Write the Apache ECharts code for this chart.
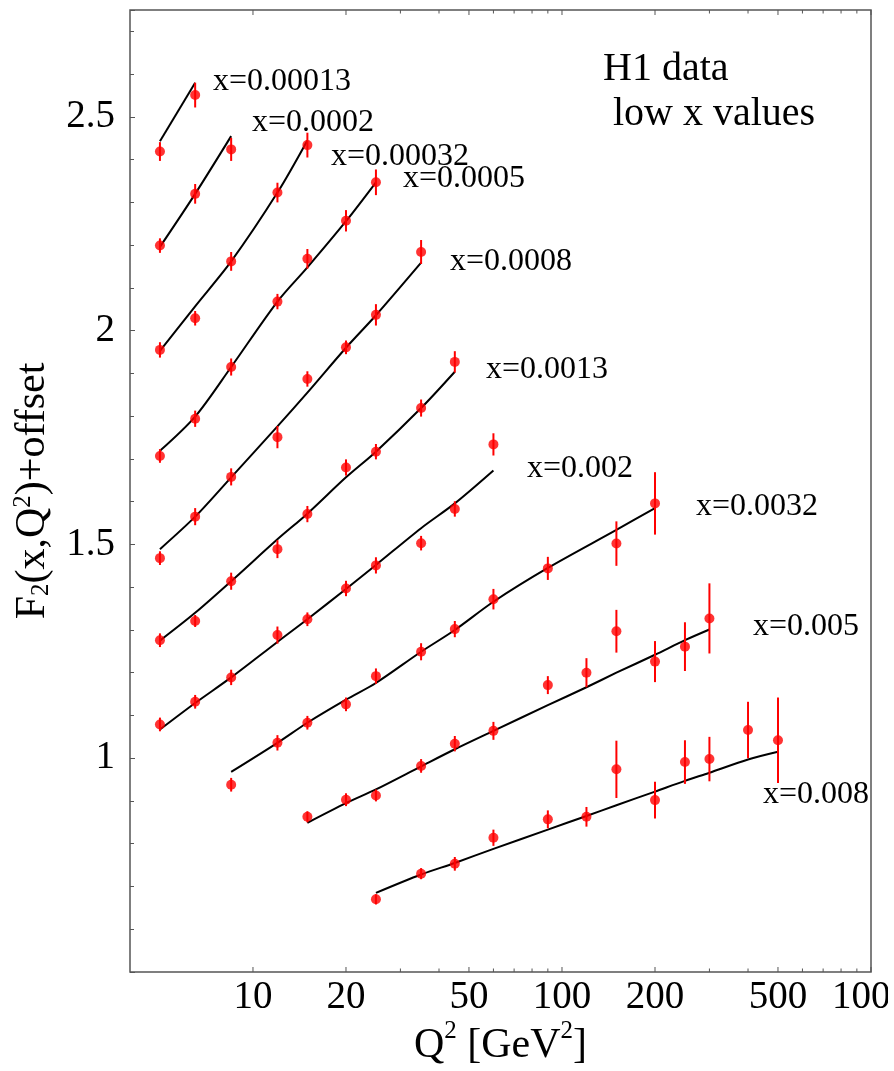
<!DOCTYPE html>
<html>
<head>
<meta charset="utf-8">
<script src="https://cdn.jsdelivr.net/npm/echarts@6/dist/echarts.min.js"></script>
<style>
  html, body { margin: 0; padding: 0; background: #fff; }
  #chart { width: 894px; height: 1071px; }
</style>
</head>
<body>
<div id="chart"></div>
<script>
// H1 structure function F2(x,Q^2) at low x, each x bin shifted by an offset.
// Q^2 in GeV^2, F2 (+offset), error, and the QCD fit curve at the same Q^2.
const Q_X00013 = [5, 6.5];
const F2_X00013 = [2.419, 2.551];
const ERR_X00013 = [0.022, 0.029];
const FIT_X00013 = [2.443, 2.580];

const Q_X0002 = [5, 6.5, 8.5];
const F2_X0002 = [2.199, 2.320, 2.424];
const ERR_X0002 = [0.017, 0.023, 0.027];
const FIT_X0002 = [2.196, 2.320, 2.455];

const Q_X00032 = [5, 6.5, 8.5, 12, 15];
const F2_X00032 = [1.955, 2.029, 2.162, 2.323, 2.434];
const ERR_X00032 = [0.018, 0.017, 0.022, 0.023, 0.029];
const FIT_X00032 = [1.953, 2.057, 2.162, 2.323, 2.445];

const Q_X0005 = [5, 6.5, 8.5, 12, 15, 20, 25];
const F2_X0005 = [1.707, 1.794, 1.915, 2.068, 2.168, 2.257, 2.347];
const ERR_X0005 = [0.016, 0.019, 0.020, 0.018, 0.023, 0.025, 0.030];
const FIT_X0005 = [1.719, 1.799, 1.915, 2.068, 2.148, 2.256, 2.347];

const Q_X0008 = [5, 6.5, 8.5, 12, 15, 20, 25, 35];
const F2_X0008 = [1.468, 1.565, 1.658, 1.751, 1.887, 1.961, 2.037, 2.184];
const ERR_X0008 = [0.016, 0.020, 0.020, 0.026, 0.018, 0.016, 0.025, 0.028];
const FIT_X0008 = [1.489, 1.565, 1.657, 1.776, 1.855, 1.960, 2.036, 2.159];

const Q_X0013 = [5, 6.5, 8.5, 12, 15, 20, 25, 35, 45];
const F2_X0013 = [1.276, 1.321, 1.414, 1.489, 1.571, 1.680, 1.717, 1.819, 1.927];
const ERR_X0013 = [0.016, 0.014, 0.020, 0.021, 0.019, 0.019, 0.018, 0.020, 0.025];
const FIT_X0013 = [1.275, 1.340, 1.414, 1.512, 1.572, 1.657, 1.717, 1.819, 1.904];

const Q_X002 = [5, 6.5, 8.5, 12, 15, 20, 25, 35, 45, 60];
const F2_X002 = [1.079, 1.132, 1.189, 1.288, 1.325, 1.397, 1.451, 1.503, 1.583, 1.734];
const ERR_X002 = [0.016, 0.016, 0.018, 0.020, 0.016, 0.018, 0.019, 0.017, 0.018, 0.026];
const FIT_X002 = [1.067, 1.129, 1.189, 1.272, 1.325, 1.396, 1.452, 1.538, 1.596, 1.673];

const Q_X0032 = [8.5, 12, 15, 20, 25, 35, 45, 60, 90, 150, 200];
const F2_X0032 = [0.938, 1.036, 1.083, 1.126, 1.192, 1.249, 1.302, 1.372, 1.444, 1.502, 1.596];
const ERR_X0032 = [0.016, 0.018, 0.016, 0.016, 0.018, 0.020, 0.019, 0.024, 0.027, 0.052, 0.073];
const FIT_X0032 = [0.968, 1.036, 1.083, 1.137, 1.176, 1.249, 1.300, 1.366, 1.445, 1.534, 1.585];

const Q_X005 = [15, 20, 25, 35, 45, 60, 90, 120, 150, 200, 250, 300];
const F2_X005 = [0.863, 0.903, 0.913, 0.982, 1.034, 1.064, 1.171, 1.200, 1.297, 1.226, 1.261, 1.327];
const ERR_X005 = [0.013, 0.015, 0.014, 0.016, 0.018, 0.021, 0.021, 0.034, 0.050, 0.048, 0.057, 0.082];
const FIT_X005 = [0.849, 0.895, 0.927, 0.981, 1.021, 1.064, 1.124, 1.166, 1.200, 1.242, 1.276, 1.301];

const Q_X008 = [25, 35, 45, 60, 90, 120, 150, 200, 250, 300, 400, 500];
const F2_X008 = [0.670, 0.730, 0.753, 0.814, 0.857, 0.863, 0.974, 0.902, 0.991, 0.998, 1.066, 1.042];
const ERR_X008 = [0.012, 0.013, 0.016, 0.019, 0.021, 0.023, 0.067, 0.043, 0.051, 0.052, 0.066, 0.100];
const FIT_X008 = [0.685, 0.728, 0.755, 0.788, 0.833, 0.865, 0.890, 0.922, 0.947, 0.966, 0.997, 1.015];

const BIN_LABELS = ['x=0.00013', 'x=0.0002', 'x=0.00032', 'x=0.0005', 'x=0.0008',
                    'x=0.0013', 'x=0.002', 'x=0.0032', 'x=0.005', 'x=0.008'];

// axis ticks
const X_MAJOR_TICKS = [10, 20, 50, 100, 200, 500, 1000];
const X_MINOR_TICKS = [30, 40, 60, 70, 80, 90, 300, 400, 600, 700, 800, 900];
const Y_LABELS = [1, 1.5, 2, 2.5];

// ---- layout ----
const X_MIN = 4, X_MAX = 1000, Y_MIN = 0.5, Y_MAX = 2.75;
const SERIF = '"Liberation Serif", "Times New Roman", serif';
const AXIS_GREY = '#555';
const LABEL_CLIP_RIGHT = 888;   // tick labels are cut off at the figure's right border
// anchor (left, vertical middle) of each bin label, same order as BIN_LABELS
const LABEL_ANCHORS = [[213, 82], [252, 123], [331, 157], [403, 179], [450, 262],
                       [486, 370], [527, 469], [696, 507], [753, 627], [763, 795]];

const bins = [
  [Q_X00013, F2_X00013, ERR_X00013, FIT_X00013],
  [Q_X0002, F2_X0002, ERR_X0002, FIT_X0002],
  [Q_X00032, F2_X00032, ERR_X00032, FIT_X00032],
  [Q_X0005, F2_X0005, ERR_X0005, FIT_X0005],
  [Q_X0008, F2_X0008, ERR_X0008, FIT_X0008],
  [Q_X0013, F2_X0013, ERR_X0013, FIT_X0013],
  [Q_X002, F2_X002, ERR_X002, FIT_X002],
  [Q_X0032, F2_X0032, ERR_X0032, FIT_X0032],
  [Q_X005, F2_X005, ERR_X005, FIT_X005],
  [Q_X008, F2_X008, ERR_X008, FIT_X008]
];

const series = [];

// fit curves
bins.forEach(([q, , , fit], i) => {
  series.push({
    type: 'line', name: BIN_LABELS[i] + ' fit', z: 2,
    data: q.map((v, k) => [v, fit[k]]),
    showSymbol: false, symbol: 'none', silent: true, smooth: 0.3,
    lineStyle: { color: '#000', width: 2 }
  });
});

// error bars
const errData = [];
bins.forEach(([q, f2, err]) => q.forEach((v, k) => errData.push([v, f2[k] - err[k], f2[k] + err[k]])));
series.push({
  type: 'custom', name: 'errors', z: 3, silent: true,
  data: errData,
  encode: { x: 0, y: [1, 2] },
  renderItem: (params, api) => {
    const lo = api.coord([api.value(0), api.value(1)]);
    const hi = api.coord([api.value(0), api.value(2)]);
    return { type: 'line', shape: { x1: lo[0], y1: lo[1], x2: hi[0], y2: hi[1] },
             style: { stroke: '#ff0000', lineWidth: 2 } };
  }
});

// data points
const pointData = [];
bins.forEach(([q, f2]) => q.forEach((v, k) => pointData.push([v, f2[k]])));
series.push({
  type: 'scatter', name: 'H1', z: 4, silent: true,
  data: pointData, symbol: 'circle', symbolSize: 10,
  itemStyle: { color: '#ff0000' }
});

// Q^2 axis ticks (bottom and top) and labels
function tickSeries(values, len, withLabel) {
  return {
    type: 'custom', z: 6, silent: true, clip: false,
    data: values.map(v => [v, Y_MIN]),
    encode: { x: 0, y: 1 },
    renderItem: (params, api) => {
      const v = api.value(0);
      const b = api.coord([v, Y_MIN]);
      const t = api.coord([v, Y_MAX]);
      const children = [
        { type: 'line', shape: { x1: b[0], y1: b[1], x2: b[0], y2: b[1] - len },
          style: { stroke: AXIS_GREY, lineWidth: 1 } },
        { type: 'line', shape: { x1: t[0], y1: t[1], x2: t[0], y2: t[1] + len },
          style: { stroke: AXIS_GREY, lineWidth: 1 } }
      ];
      if (withLabel) {
        children.push({ type: 'text', x: b[0], y: b[1] + 26,
          style: { text: String(v), fontSize: 39, fontFamily: SERIF, fill: '#000',
                   align: 'center', verticalAlign: 'middle' } });
      }
      return { type: 'group', children,
               clipPath: { type: 'rect', shape: { x: 0, y: 0, width: LABEL_CLIP_RIGHT, height: 1071 } } };
    }
  };
}
series.push(tickSeries(X_MAJOR_TICKS, 5, true));
series.push(tickSeries(X_MINOR_TICKS, 3.5, false));

const graphic = BIN_LABELS.map((txt, i) => ({
  type: 'text', x: LABEL_ANCHORS[i][0], y: LABEL_ANCHORS[i][1], z: 10,
  style: { text: txt, fontSize: 32, fontFamily: SERIF, fill: '#000',
           align: 'left', verticalAlign: 'middle' }
}));
graphic.push({ type: 'text', x: 603, y: 69, z: 10,
  style: { text: 'H1 data', fontSize: 40, fontFamily: SERIF, fill: '#000', verticalAlign: 'middle' } });
graphic.push({ type: 'text', x: 613, y: 114, z: 10,
  style: { text: 'low x values', fontSize: 40, fontFamily: SERIF, fill: '#000', verticalAlign: 'middle' } });

const chart = echarts.init(document.getElementById('chart'), null, { renderer: 'canvas' });
chart.setOption({
  animation: false,
  backgroundColor: '#fff',
  grid: { left: 130, right: 23, top: 10, bottom: 99, show: true,
          containLabel: false, outerBoundsMode: 'none',
          borderColor: AXIS_GREY, borderWidth: 1.5, backgroundColor: 'transparent' },
  xAxis: {
    type: 'log', logBase: 10, min: X_MIN, max: X_MAX,
    axisLine: { show: false }, axisTick: { show: false }, axisLabel: { show: false },
    splitLine: { show: false },
    name: '{t|Q}{s|2}{t| [GeV}{s|2}{t|]}',
    nameLocation: 'middle', nameGap: 47,
    nameTextStyle: {
      fontFamily: SERIF, fontSize: 42, color: '#000',
      rich: {
        t: { fontFamily: SERIF, fontSize: 42, color: '#000', lineHeight: 53 },
        s: { fontFamily: SERIF, fontSize: 25, color: '#000', verticalAlign: 'top' }
      }
    }
  },
  yAxis: {
    type: 'value', min: Y_MIN, max: Y_MAX, interval: 0.5,
    axisLine: { show: false },
    axisTick: { show: true, inside: true, length: 5, lineStyle: { color: AXIS_GREY, width: 1 } },
    minorTick: { show: true, splitNumber: 5, length: 4, lineStyle: { color: AXIS_GREY, width: 1 } },
    splitLine: { show: false }, minorSplitLine: { show: false },
    axisLabel: {
      margin: 15, fontFamily: SERIF, fontSize: 39, color: '#000',
      formatter: v => (Y_LABELS.some(l => Math.abs(l - v) < 1e-9) ? String(v) : '')
    },
    name: '{t|F}{b|2}{t|(x,Q}{s|2}{t|)+offset}',
    nameLocation: 'middle', nameGap: 76, nameRotate: 90,
    nameTextStyle: {
      fontFamily: SERIF, fontSize: 42, color: '#000',
      rich: {
        t: { fontFamily: SERIF, fontSize: 42, color: '#000', lineHeight: 43 },
        s: { fontFamily: SERIF, fontSize: 25, color: '#000', verticalAlign: 'top' },
        b: { fontFamily: SERIF, fontSize: 25, color: '#000', verticalAlign: 'bottom' }
      }
    }
  },
  graphic,
  series
});
</script>
</body>
</html>
